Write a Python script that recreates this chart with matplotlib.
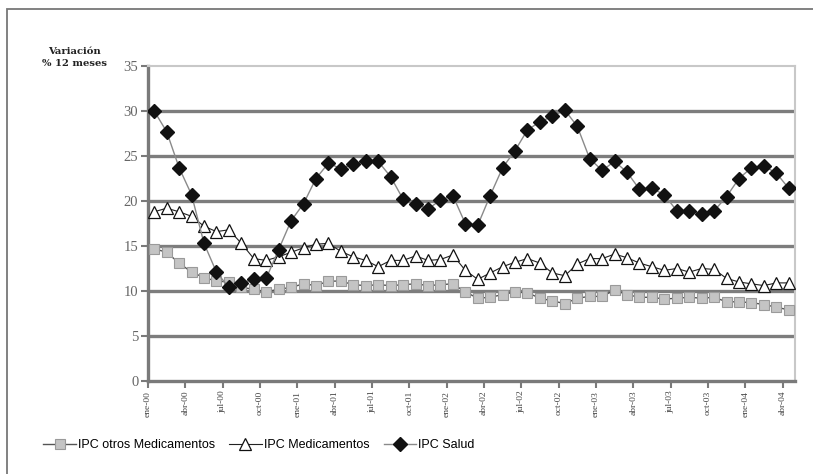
import matplotlib
matplotlib.use("Agg")
import matplotlib.pyplot as plt
import numpy as np
from matplotlib.patches import Rectangle
from matplotlib.lines import Line2D

# Monthly series, Jan 2000 - Apr 2004 (12-month % change)
ipc_salud = [30.0, 27.7, 23.7, 20.7, 15.3, 12.1, 10.4, 10.9, 11.3, 11.4, 14.6, 17.8,
             19.7, 22.5, 24.2, 23.6, 24.1, 24.4, 24.4, 22.7, 20.2, 19.7, 19.1, 20.1,
             20.6, 17.5, 17.3, 20.6, 23.7, 25.6, 27.9, 28.8, 29.4, 30.1, 28.3, 24.7,
             23.4, 24.4, 23.2, 21.3, 21.4, 20.7, 18.9, 18.9, 18.6, 18.9, 20.5, 22.5,
             23.7, 23.9, 23.1, 21.4]
ipc_medicamentos = [18.8, 19.2, 18.8, 18.3, 17.2, 16.6, 16.8, 15.3, 13.6, 13.4, 13.8, 14.3,
                    14.8, 15.2, 15.3, 14.4, 13.8, 13.4, 12.7, 13.4, 13.4, 13.9, 13.4, 13.5,
                    14.0, 12.3, 11.3, 12.0, 12.7, 13.2, 13.6, 13.1, 12.0, 11.7, 13.0, 13.6,
                    13.6, 14.1, 13.7, 13.1, 12.7, 12.3, 12.5, 12.1, 12.5, 12.4, 11.4, 11.0,
                    10.8, 10.6, 10.9, 10.9]
ipc_otros = [14.7, 14.3, 13.1, 12.1, 11.5, 11.1, 11.0, 10.4, 10.2, 9.9, 10.2, 10.4,
             10.8, 10.6, 11.1, 11.1, 10.7, 10.6, 10.7, 10.6, 10.7, 10.8, 10.6, 10.7,
             10.8, 9.9, 9.2, 9.3, 9.6, 9.9, 9.8, 9.2, 8.9, 8.6, 9.2, 9.4,
             9.4, 10.1, 9.6, 9.3, 9.3, 9.1, 9.2, 9.3, 9.2, 9.3, 8.8, 8.8,
             8.7, 8.5, 8.2, 7.9]

tick_labels = ["ene-00", "abr-00", "jul-00", "oct-00", "ene-01", "abr-01", "jul-01",
               "oct-01", "ene-02", "abr-02", "jul-02", "oct-02", "ene-03", "abr-03",
               "jul-03", "oct-03", "ene-04", "abr-04"]
y_ticks = [0, 5, 10, 15, 20, 25, 30, 35]
series_names = ["IPC otros Medicamentos", "IPC Medicamentos", "IPC Salud"]

W, H = 813, 474
fig = plt.figure(figsize=(W / 100, H / 100), dpi=100)
fig.patch.set_facecolor("white")

ax = fig.add_axes([148 / W, 1 - 381 / H, (795 - 148) / W, (381 - 66) / H])
n = len(ipc_salud)
x = np.arange(n) + 0.5          # categories sit between tick marks
ax.set_xlim(0, n)
ax.set_ylim(0, 35)

# horizontal gridlines
for yv in y_ticks[1:-1]:
    ax.axhline(yv, color="#7d7d7d", lw=2.4, zorder=1)

ax.plot(x, ipc_otros, color="#555555", lw=1.0, marker="s", ms=6.5,
        mfc="#c4c4c4", mec="#9a9a9a", mew=0.8, zorder=3)
ax.plot(x, ipc_medicamentos, color="#222222", lw=0.8, marker="^", ms=8,
        mfc="white", mec="#111111", mew=0.9, zorder=4)
ax.plot(x, ipc_salud, color="#8a8a8a", lw=1.0, marker="D", ms=7,
        mfc="#111111", mec="#111111", zorder=5)

# spines
for side in ("top", "right"):
    ax.spines[side].set_color("#c8c8c8")
    ax.spines[side].set_linewidth(1.5)
for side in ("left", "bottom"):
    ax.spines[side].set_color("#7a7a7a")
    ax.spines[side].set_linewidth(2.4)

ax.set_yticks(y_ticks)
ax.set_yticklabels([str(v) for v in y_ticks], family="Liberation Serif",
                   fontsize=10.5, color="#666666")
ax.set_xticks(np.arange(0, n, 3))
ax.set_xticklabels(tick_labels, rotation=90, family="Liberation Serif",
                   fontsize=6.8, color="#444444")
ax.tick_params(axis="y", length=5, width=1.5, color="#7a7a7a", pad=2)
ax.tick_params(axis="x", length=5, width=1.5, color="#7a7a7a", pad=2)

# axis caption, top-left
fig.text(74 / W, 1 - 51 / H, "Variación", ha="center", va="center",
         family="DejaVu Serif", fontsize=7.2, fontweight="bold", color="#222222")
fig.text(74 / W, 1 - 63 / H, "% 12 meses", ha="center", va="center",
         family="DejaVu Serif", fontsize=7.2, fontweight="bold", color="#222222")

# legend
handles = [
    Line2D([], [], color="#555555", lw=1.0, marker="s", ms=6.5,
           mfc="#c4c4c4", mec="#9a9a9a", mew=0.8),
    Line2D([], [], color="#222222", lw=0.8, marker="^", ms=8,
           mfc="white", mec="#111111", mew=0.9),
    Line2D([], [], color="#8a8a8a", lw=1.0, marker="D", ms=7,
           mfc="#111111", mec="#111111"),
]
fig.legend(handles, series_names, loc="center left",
           bbox_to_anchor=(32 / W, 1 - 445 / H), ncol=3, frameon=False,
           handlelength=2.6, handletextpad=0.2, columnspacing=1.1,
           borderpad=0.4, prop={"family": "Liberation Sans", "size": 9})

# outer frame
fig.add_artist(Rectangle((7 / W, -0.1), 1.2, (H - 9) / H + 0.1,
                         transform=fig.transFigure, fill=False,
                         ec="#777777", lw=1.3))

fig.savefig("out.png", dpi=100)
